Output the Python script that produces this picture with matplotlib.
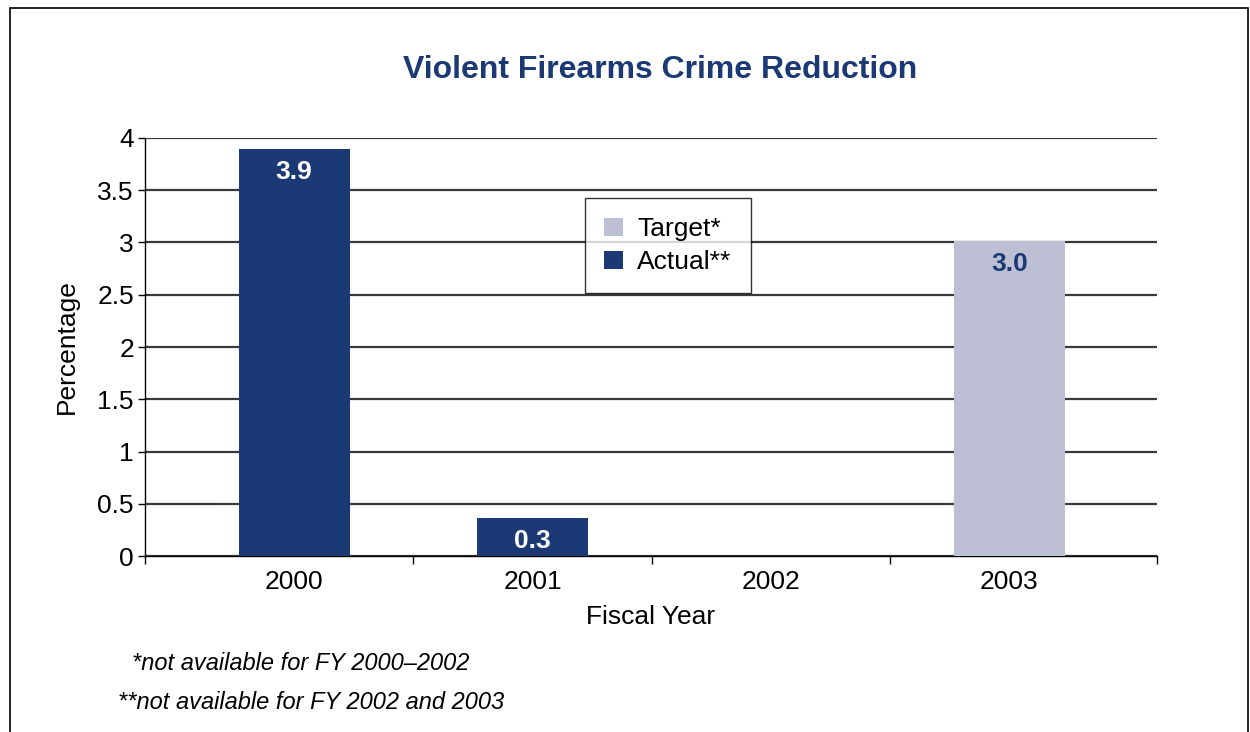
import matplotlib.pyplot as plt
from matplotlib.patches import Rectangle
import numpy as np

plt.rcParams['font.family'] = ['Liberation Sans', 'DejaVu Sans']

years = ["2000", "2001", "2002", "2003"]
target = [np.nan, np.nan, np.nan, 3.01]
actual = [3.89, 0.36, np.nan, np.nan]
target_labels = ["", "", "", "3.0"]
actual_labels = ["3.9", "0.3", "", ""]

dark_blue = "#1b3a75"
light = "#bdbfd4"

fig = plt.figure(figsize=(12.5, 7.32), dpi=100)
ax = fig.add_axes([0.116, 0.2404, 0.8096, 0.5711])

x = np.arange(len(years))
w = 0.466
bt = ax.bar(x, target, w, color=light, label="Target*", zorder=3)
ba = ax.bar(x, actual, w, color=dark_blue, label="Actual**", zorder=3)

# Werte in die Balken schreiben
for rect, lab in zip(bt, target_labels):
    if lab:
        ax.text(rect.get_x() + rect.get_width() / 2, rect.get_height() - 0.1, lab,
                ha="center", va="top", color=dark_blue, fontsize=19, fontweight="bold", zorder=4)
for rect, lab in zip(ba, actual_labels):
    if lab:
        ax.text(rect.get_x() + rect.get_width() / 2, rect.get_height() - 0.1, lab,
                ha="center", va="top", color="white", fontsize=19, fontweight="bold", zorder=4)

ax.set_xlim(-0.626, 3.62)
ax.set_ylim(0, 4)
ax.set_yticks(np.arange(0, 4.01, 0.5))
ax.set_yticklabels(["0", "0.5", "1", "1.5", "2", "2.5", "3", "3.5", "4"])
ax.set_xticks(x)
ax.set_xticklabels(years)
ax.set_xticks([-0.626, 0.5, 1.5, 2.5, 3.62], minor=True)
ax.tick_params(axis="x", which="major", length=0, labelsize=19, pad=10)
ax.tick_params(axis="x", which="minor", length=6, width=1, direction="out")
ax.tick_params(axis="y", length=5, width=1, labelsize=19, pad=3)

ax.yaxis.grid(True, color="#3a3a3a", linewidth=1.6, zorder=0)
ax.set_axisbelow(True)
for s in ["top", "right"]:
    ax.spines[s].set_visible(False)
ax.spines["left"].set_linewidth(1)
ax.spines["bottom"].set_linewidth(1)

ax.set_xlabel("Fiscal Year", fontsize=19, labelpad=8)
ax.set_ylabel("Percentage", fontsize=19, labelpad=13)

leg = ax.legend(loc="upper left", bbox_to_anchor=(0.435, 0.856), fontsize=19,
                frameon=True, fancybox=False, edgecolor="black", handlelength=0.7,
                handleheight=0.7, handletextpad=0.55, borderpad=0.72, labelspacing=0.35,
                borderaxespad=0)
leg.get_frame().set_linewidth(1)
leg.set_zorder(5)

fig.text(0.528, 0.904, "Violent Firearms Crime Reduction", ha="center", va="center",
         fontsize=23, fontweight="bold", color=dark_blue)
fig.text(0.106, 0.094, "*not available for FY 2000\u20132002", fontsize=17, style="italic", va="center")
fig.text(0.094, 0.040, "**not available for FY 2002 and 2003", fontsize=17, style="italic", va="center")

# Rahmen um die Grafik
fig.add_artist(Rectangle((0.008, -0.05), 0.99, 1.039, transform=fig.transFigure,
                         fill=False, edgecolor="black", linewidth=1.2))

fig.savefig("out.png", dpi=100)
